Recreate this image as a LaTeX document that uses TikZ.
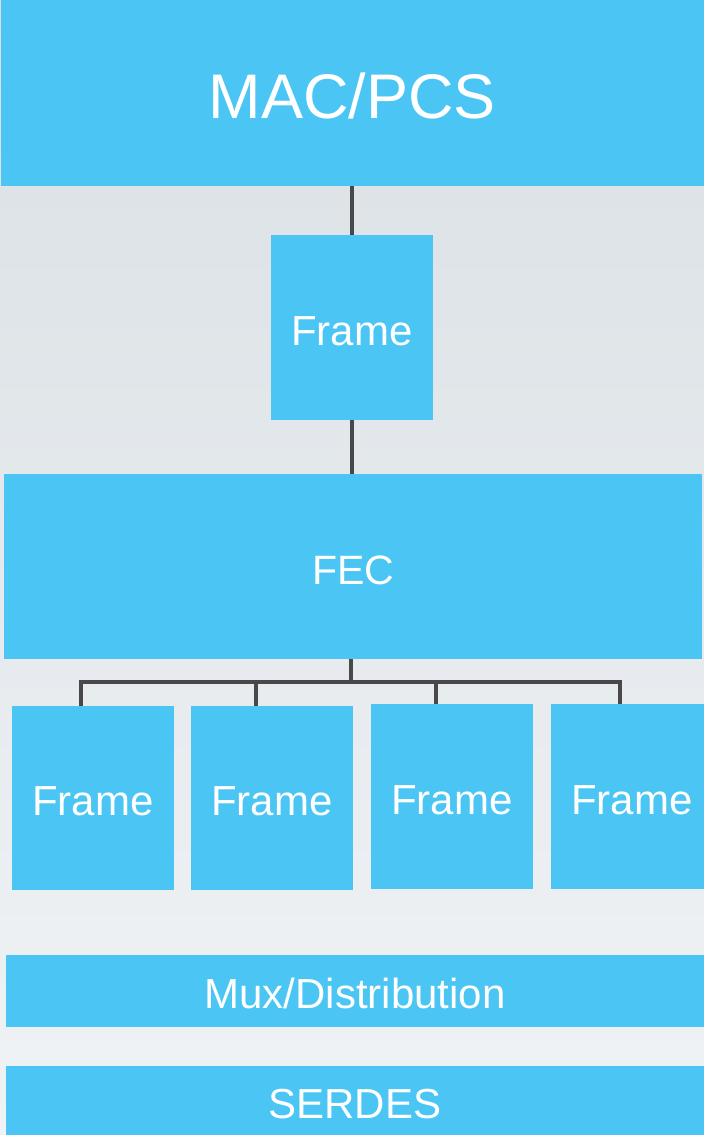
\documentclass[tikz,border=0pt]{standalone}
\usepackage{fontspec}
\setmainfont{Liberation Sans}
\definecolor{boxblue}{RGB}{75,198,244}
\definecolor{wire}{RGB}{72,72,72}
\definecolor{bgtop}{RGB}{218,224,228}
\definecolor{bgbot}{RGB}{240,243,246}
\tikzset{
  blk/.style={rectangle, fill=boxblue, inner sep=0pt, text=white, text depth=0pt},
  big/.style={font=\fontsize{63}{70}\selectfont, text height=50pt},
  mid/.style={font=\fontsize{42}{48}\selectfont, text height=35pt},
  conn/.style={draw=wire, line width=4.5pt, line join=miter},
}
\begin{document}
\begin{tikzpicture}[x=1pt,y=-1pt]
\useasboundingbox (0,0) rectangle (704,1135);
\shade[top color=bgtop, bottom color=bgbot] (0,0) rectangle (704,1135);
% blocks
\node[blk, big, minimum width=703pt, minimum height=186pt] (mac) at (352.5,93) {MAC/PCS};
\node[blk, mid, minimum width=162pt, minimum height=185pt] (f0) at (352,327.5) {Frame};
\node[blk, mid, minimum width=698pt, minimum height=185pt, font=\fontsize{41}{48}\selectfont] (fec) at (353,566.5) {FEC};
\node[blk, mid, minimum width=162pt, minimum height=184pt] (f1) at (93,798) {Frame};
\node[blk, mid, minimum width=162pt, minimum height=184pt] (f2) at (272,798) {Frame};
\node[blk, mid, minimum width=162pt, minimum height=185pt] (f3) at (452,796.5) {Frame};
\node[blk, mid, minimum width=162pt, minimum height=185pt] (f4) at (632,796.5) {Frame};
\node[blk, mid, minimum width=698pt, minimum height=72pt] (mux) at (355,991) {Mux/Distribution};
\node[blk, mid, minimum width=698pt, minimum height=69pt] (serdes) at (355,1100.5) {SERDES};
% connectors
\draw[conn, line width=4pt] (f0.north) -- (f0.north |- mac.south);
\draw[conn, line width=4pt] (f0.south) -- (f0.south |- fec.north);
\coordinate (bus) at (351,682);
\coordinate (d1) at (81,682);
\coordinate (d2) at (256,682);
\coordinate (d3) at (436,682);
\coordinate (d4) at (620,682);
\draw[conn] (bus |- fec.south) -- (bus);
\draw[conn] (d1 |- f1.north) -- (d1) -- (d4) -- (d4 |- f4.north);
\draw[conn] (d2) -- (d2 |- f2.north);
\draw[conn] (d3) -- (d3 |- f3.north);
\end{tikzpicture}
\end{document}
